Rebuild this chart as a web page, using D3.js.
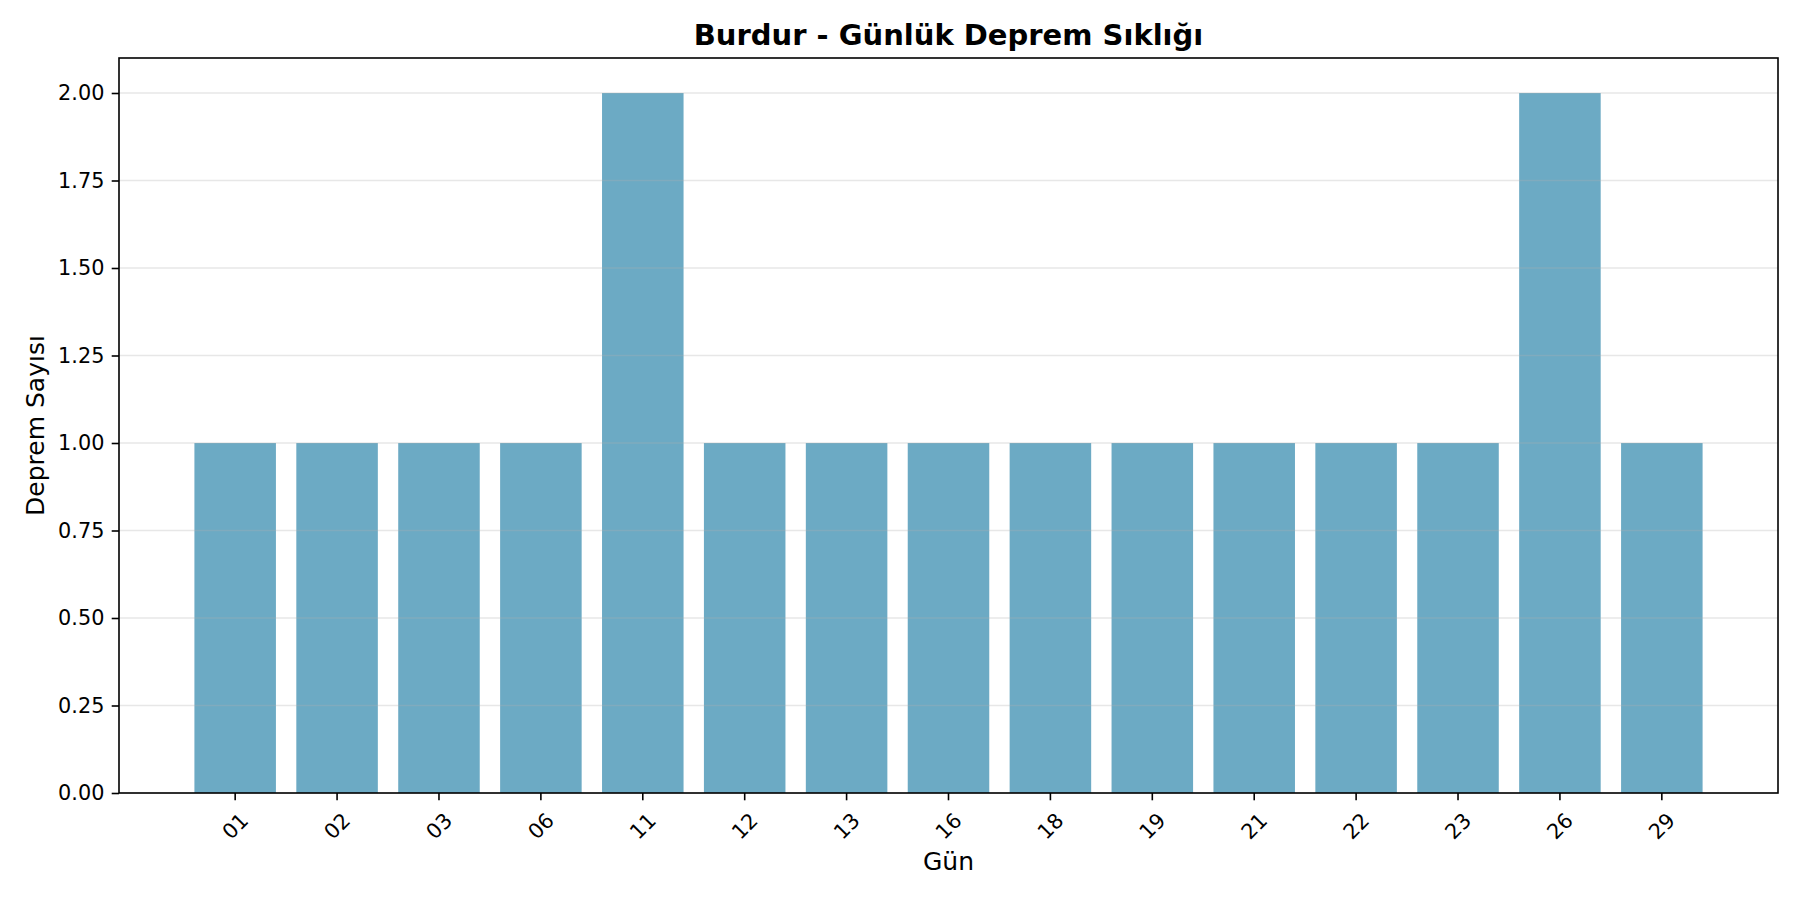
<!DOCTYPE html>
<html>
<head>
<meta charset="utf-8">
<script src="https://cdn.jsdelivr.net/npm/d3@7"></script>
<style>
  body { margin: 0; background: #fff; }
  svg { display: block; font-family: "DejaVu Sans", sans-serif; }
</style>
</head>
<body>
<div id="chart"></div>
<script>
// day of month (x axis) and number of quakes on that day
var days = ["01", "02", "03", "06", "11", "12", "13", "16", "18", "19", "21", "22", "23", "26", "29"];
var counts = [1, 1, 1, 1, 2, 1, 1, 1, 1, 1, 1, 1, 1, 2, 1];
var yTicks = [0, 0.25, 0.5, 0.75, 1, 1.25, 1.5, 1.75, 2];

var width = 1800,
  height = 900,
  margin = {top: 58, right: 22, bottom: 107, left: 119},
  innerWidth = width - margin.left - margin.right,
  innerHeight = height - margin.top - margin.bottom;

var svg = d3.select("#chart")
  .append("svg")
  .attr("width", width)
  .attr("height", height);

svg.append("rect")
  .attr("width", width)
  .attr("height", height)
  .attr("fill", "#fff");

var g = svg.append("g")
  .attr("transform", "translate(" + margin.left + "," + margin.top + ")");

var x = d3.scaleBand()
  .domain(days)
  .range([0, innerWidth])
  .paddingInner(0.2)
  .paddingOuter(0.74);

var y = d3.scaleLinear()
  .domain([0, 2.1])
  .range([innerHeight, 0]);

// bars
g.selectAll("rect.bar")
  .data(days)
  .enter()
  .append("rect")
  .attr("class", "bar")
  .attr("x", function (d) { return x(d); })
  .attr("y", function (d, i) { return y(counts[i]); })
  .attr("width", x.bandwidth())
  .attr("height", function (d, i) { return y(0) - y(counts[i]); })
  .attr("fill", "#2E86AB")
  .attr("fill-opacity", 0.7);

// horizontal grid (drawn over the bars like matplotlib does)
g.selectAll("line.grid")
  .data(yTicks)
  .enter()
  .append("line")
  .attr("class", "grid")
  .attr("x1", 0)
  .attr("x2", innerWidth)
  .attr("y1", function (d) { return y(d); })
  .attr("y2", function (d) { return y(d); })
  .attr("stroke", "#b0b0b0")
  .attr("stroke-opacity", 0.3)
  .attr("stroke-width", 1.6);

// y axis
var yAxis = g.append("g")
  .call(d3.axisLeft(y).tickValues(yTicks).tickFormat(d3.format(".2f")).tickSize(7.3).tickPadding(7.3));
yAxis.select(".domain").remove();
yAxis.selectAll(".tick line").attr("stroke", "#000").attr("stroke-width", 1.6);
yAxis.selectAll(".tick text")
  .attr("fill", "#000")
  .attr("font-size", "20.8px")
  .attr("font-family", "DejaVu Sans");

// x axis, labels turned 45 degrees around their centre
var xAxis = g.append("g")
  .attr("transform", "translate(0," + innerHeight + ")")
  .call(d3.axisBottom(x).tickSize(7.3).tickSizeOuter(0));
xAxis.select(".domain").remove();
xAxis.selectAll(".tick line").attr("stroke", "#000").attr("stroke-width", 1.6);
xAxis.selectAll(".tick text")
  .attr("fill", "#000")
  .attr("font-size", "20.8px")
  .attr("font-family", "DejaVu Sans")
  .attr("text-anchor", "middle")
  .attr("y", 0)
  .attr("dy", "0.35em")
  .attr("transform", "translate(0,33) rotate(-45)");

// frame
g.append("rect")
  .attr("width", innerWidth)
  .attr("height", innerHeight)
  .attr("fill", "none")
  .attr("stroke", "#000")
  .attr("stroke-width", 1.6);

// title and labels
svg.append("text")
  .attr("x", margin.left + innerWidth / 2)
  .attr("y", 45)
  .attr("text-anchor", "middle")
  .attr("font-size", "29px")
  .attr("font-weight", "bold")
  .attr("fill", "#000")
  .text("Burdur - Günlük Deprem Sıklığı");

svg.append("text")
  .attr("x", margin.left + innerWidth / 2)
  .attr("y", 870)
  .attr("text-anchor", "middle")
  .attr("font-size", "25px")
  .attr("fill", "#000")
  .text("Gün");

svg.append("text")
  .attr("transform", "translate(44," + (margin.top + innerHeight / 2) + ") rotate(-90)")
  .attr("text-anchor", "middle")
  .attr("font-size", "25px")
  .attr("fill", "#000")
  .text("Deprem Sayısı");
</script>
</body>
</html>
